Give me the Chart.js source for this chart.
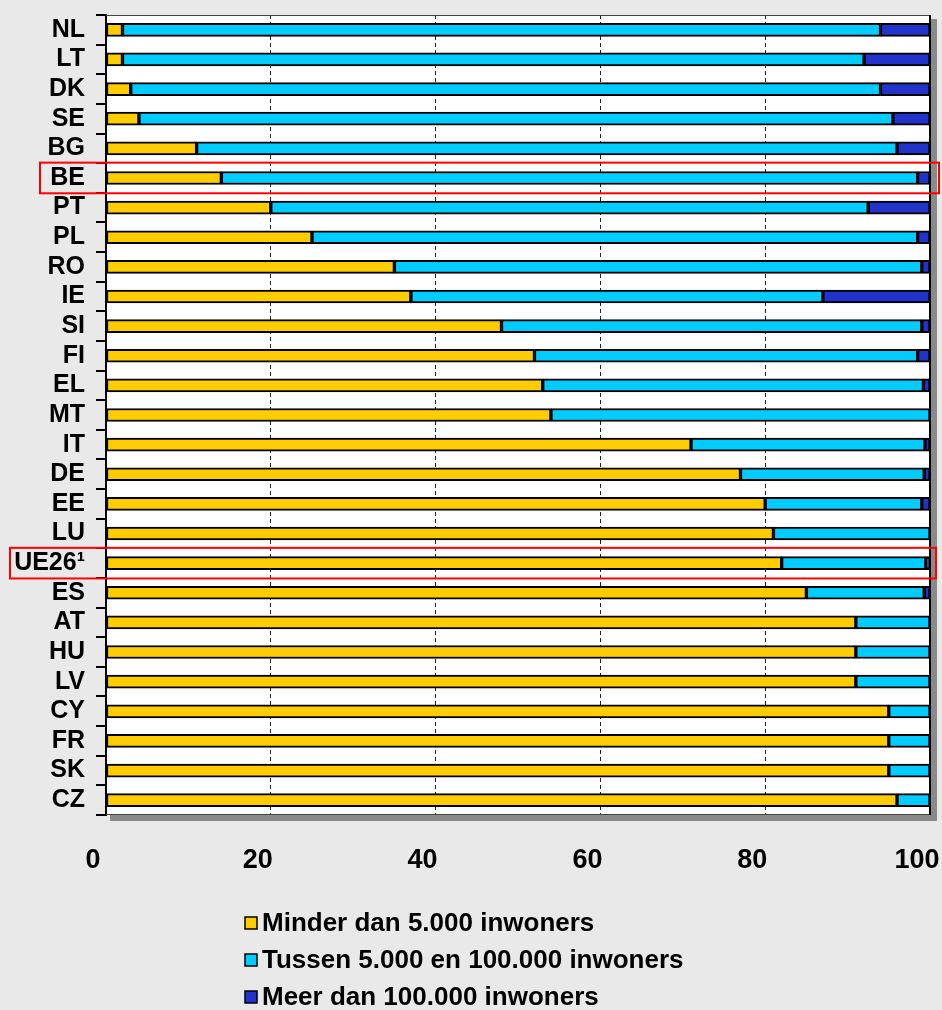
<!DOCTYPE html>
<html>
<head>
<meta charset="utf-8">
<script src="https://cdn.jsdelivr.net/npm/chart.js@4.4.0/dist/chart.umd.min.js"></script>
<style>
  html, body { margin: 0; padding: 0; background: #e9e9e9; }
  #wrap { width: 942px; height: 1010px; position: relative; }
  canvas { display: block; }
</style>
</head>
<body>
<div id="wrap"><canvas id="c" width="942" height="1010"></canvas></div>
<script>
// ---- data ----
const categories = ['NL','LT','DK','SE','BG','BE','PT','PL','RO','IE','SI','FI','EL','MT','IT','DE','EE','LU','UE26¹','ES','AT','HU','LV','CY','FR','SK','CZ'];
const lessThan5000 = [2, 2, 3, 4, 11, 14, 20, 25, 35, 37, 48, 52, 53, 54, 71, 77, 80, 81, 82, 85, 91, 91, 91, 95, 95, 95, 96];
const between5000and100000 = [92, 90, 91, 91.5, 85, 84.5, 72.5, 73.5, 64, 50, 51, 46.5, 46.2, 46, 28.4, 22.3, 19, 19, 17.5, 14.3, 9, 9, 9, 5, 5, 5, 4];
const moreThan100000 = [6, 8, 6, 4.5, 4, 1.5, 7.5, 1.5, 1, 13, 1, 1.5, 0.8, 0, 0.6, 0.7, 1, 0, 0.5, 0.7, 0, 0, 0, 0, 0, 0, 0];
const seriesLabels = ['Minder dan 5.000 inwoners', 'Tussen 5.000 en 100.000 inwoners', 'Meer dan 100.000 inwoners'];
const xTickValues = [0, 20, 40, 60, 80, 100];
const highlightedCategories = ['BE', 'UE26¹'];

const colors = ['#ffcc00', '#00ccff', '#2233cc'];
const FONT = '"Liberation Sans", Arial, sans-serif';

const framePlugin = {
  id: 'frame',
  beforeDraw(chart) {
    const {ctx, chartArea: a} = chart;
    ctx.save();
    ctx.fillStyle = '#8a8a8a';
    ctx.fillRect(a.left + 4, a.top + 4, a.right - a.left + 3, a.bottom - a.top + 2);
    ctx.fillStyle = '#ffffff';
    ctx.fillRect(a.left, a.top, a.right - a.left, a.bottom - a.top);
    ctx.restore();
  },
  afterDraw(chart) {
    const {ctx, chartArea: a} = chart;
    const ys = chart.scales.y;
    ctx.save();
    // frame
    ctx.strokeStyle = '#444';
    ctx.lineWidth = 1;
    ctx.beginPath();
    ctx.moveTo(a.left, a.top + 0.5); ctx.lineTo(a.right, a.top + 0.5);
    ctx.moveTo(a.left, a.bottom - 0.5); ctx.lineTo(a.right, a.bottom - 0.5);
    ctx.stroke();
    ctx.strokeStyle = '#000';
    ctx.lineWidth = 2;
    ctx.beginPath();
    ctx.moveTo(a.right, a.top); ctx.lineTo(a.right, a.bottom);
    ctx.stroke();
    // red highlight boxes
    const rowH = (a.bottom - a.top) / categories.length;
    const boxLeft = {'BE': 40, 'UE26¹': 10};
    const boxRight = {'BE': 939, 'UE26¹': 936};
    ctx.strokeStyle = '#ff0000';
    ctx.lineWidth = 2;
    highlightedCategories.forEach(c => {
      const i = categories.indexOf(c);
      const yc = ys.getPixelForValue(i);
      const l = boxLeft[c], r = boxRight[c];
      ctx.strokeRect(l, yc - rowH / 2 - 0.5, r - l, rowH + 1);
    });
    // legend (vertical list)
    const rows = [923, 960, 997];
    ctx.font = 'bold 26px ' + FONT;
    ctx.textBaseline = 'middle';
    ctx.textAlign = 'left';
    chart.data.datasets.forEach((ds, k) => {
      const y = rows[k];
      ctx.fillStyle = ds.backgroundColor;
      ctx.fillRect(245, y - 6, 12, 12);
      ctx.strokeStyle = '#000';
      ctx.lineWidth = 1.5;
      ctx.strokeRect(245, y - 6, 12, 12);
      ctx.fillStyle = '#000';
      ctx.fillText(ds.label, 262, y + 1);
    });
    ctx.restore();
  }
};

new Chart(document.getElementById('c'), {
  type: 'bar',
  data: {
    labels: categories,
    datasets: [
      { label: seriesLabels[0], data: lessThan5000, backgroundColor: colors[0] },
      { label: seriesLabels[1], data: between5000and100000, backgroundColor: colors[1] },
      { label: seriesLabels[2], data: moreThan100000, backgroundColor: colors[2] }
    ].map(d => Object.assign(d, { borderColor: '#000', borderWidth: 2, borderSkipped: false, barThickness: 13 }))
  },
  options: {
    indexAxis: 'y',
    responsive: false,
    animation: false,
    devicePixelRatio: 1,
    layout: { padding: { top: 15, right: 12, left: 0, bottom: 0 } },
    plugins: { legend: { display: false }, tooltip: { enabled: false }, title: { display: false } },
    scales: {
      x: {
        stacked: true,
        min: 0, max: 100,
        afterBuildTicks: s => { s.ticks = xTickValues.map(v => ({ value: v })); },
        afterFit: s => { s.height = 195; s.paddingLeft = 0; s.paddingRight = 0; },
        ticks: {
          color: '#000',
          font: { family: FONT, weight: 'bold', size: 27 },
          padding: 29,
          labelOffset: -13,
          maxRotation: 0
        },
        grid: {
          drawTicks: false,
          color: c => (c.tick && (c.tick.value === 0 || c.tick.value === 100)) ? 'rgba(0,0,0,0)' : '#222',
          lineWidth: 1
        },
        border: { display: false, dash: [4, 3] }
      },
      y: {
        stacked: true,
        afterFit: s => { s.width = 106; s.paddingTop = 0; s.paddingBottom = 0; },
        ticks: {
          color: '#000',
          font: { family: FONT, weight: 'bold', size: 25 },
          padding: 11,
          autoSkip: false
        },
        grid: { offset: true, drawOnChartArea: false, drawTicks: true, tickLength: 10, color: '#000', lineWidth: 2 },
        border: { display: true, color: '#000', width: 2 }
      }
    }
  },
  plugins: [framePlugin]
});
</script>
</body>
</html>
